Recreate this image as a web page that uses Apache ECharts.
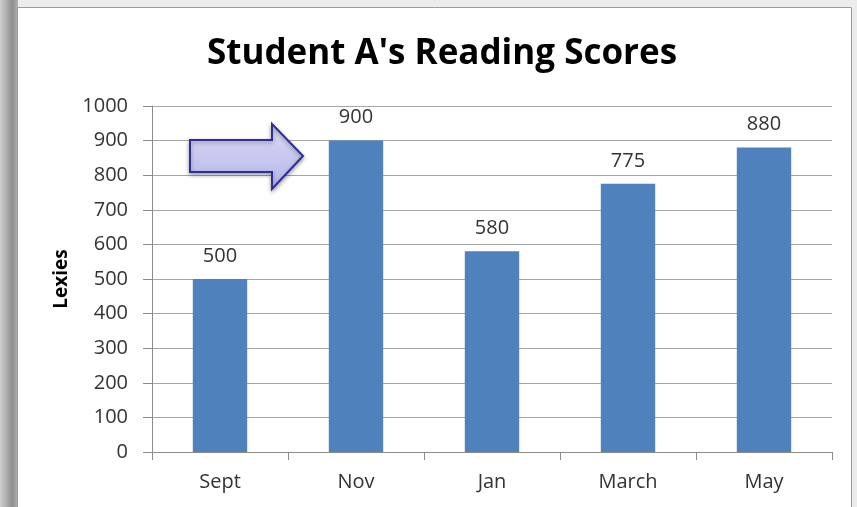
<!DOCTYPE html>
<html>
<head>
<meta charset="utf-8">
<script src="https://cdn.jsdelivr.net/npm/echarts@6/dist/echarts.min.js"></script>
<style>
  html, body { margin: 0; padding: 0; background: #ececec; }
  #chart { width: 857px; height: 507px; }
</style>
</head>
<body>
<div id="chart"></div>
<script>
const months = ['Sept', 'Nov', 'Jan', 'March', 'May']
const scores = [500, 900, 580, 775, 880]

const font = '"Open Sans", "Liberation Sans", sans-serif'
const chart = echarts.init(document.getElementById('chart'))

chart.setOption({
  backgroundColor: '#ececec',
  animation: false,
  title: {
    text: "Student A's Reading Scores",
    left: 202,
    top: 32,
    textStyle: { fontFamily: font, fontSize: 35, fontWeight: 'bold', color: '#000' }
  },
  graphic: [
    // left shadow strip
    {
      type: 'rect', z: -20, silent: true,
      shape: { x: 0, y: 0, width: 18, height: 507 },
      style: {
        fill: new echarts.graphic.LinearGradient(0, 0, 1, 0, [
          { offset: 0, color: '#cfcfcf' },
          { offset: 0.7, color: '#8e8e8e' },
          { offset: 1, color: '#b5b5b5' }
        ])
      }
    },
    // white chart panel
    {
      type: 'rect', z: -10, silent: true,
      shape: { x: 17.5, y: 7.5, width: 834, height: 510 },
      style: { fill: '#fff', stroke: '#9c9c9c', lineWidth: 1 }
    },
    // arrow pointing at Nov
    {
      type: 'polygon', z: 10, silent: true,
      shape: {
        points: [[190, 140], [272, 140], [272, 124], [303, 156], [272, 189], [272, 172], [190, 172]]
      },
      style: {
        fill: new echarts.graphic.LinearGradient(0, 0, 0, 1, [
          { offset: 0, color: '#dcdcf6' },
          { offset: 1, color: '#b4b4ea' }
        ]),
        stroke: '#2e2e96',
        lineWidth: 2,
        shadowBlur: 4,
        shadowColor: 'rgba(0,0,0,0.35)',
        shadowOffsetY: 2
      }
    }
  ],
  grid: { left: 152, right: 25, top: 106, bottom: 55 },
  xAxis: {
    type: 'category',
    data: months,
    axisLine: { lineStyle: { color: '#8c8c8c' } },
    axisTick: { show: true, length: 8, lineStyle: { color: '#8c8c8c' } },
    axisLabel: { margin: 20, fontFamily: font, fontSize: 20, color: '#333' }
  },
  yAxis: {
    type: 'value',
    min: 0,
    max: 1000,
    interval: 100,
    name: 'Lexies',
    nameLocation: 'middle',
    nameGap: 76,
    nameRotate: 90,
    nameTextStyle: { fontFamily: font, fontSize: 19, fontWeight: 'bold', color: '#000' },
    axisLine: { show: true, lineStyle: { color: '#8c8c8c' } },
    axisTick: { show: true, length: 9, lineStyle: { color: '#8c8c8c' } },
    axisLabel: { margin: 24, fontFamily: font, fontSize: 20, color: '#333', formatter: v => String(v) },
    splitLine: { lineStyle: { color: '#a6a6a6' } }
  },
  series: [
    {
      type: 'bar',
      data: scores,
      barWidth: '40%',
      itemStyle: { color: '#4f81bd' },
      label: {
        show: true,
        position: 'top',
        distance: 13,
        fontFamily: font,
        fontSize: 20,
        color: '#333'
      }
    }
  ]
})
</script>
</body>
</html>
